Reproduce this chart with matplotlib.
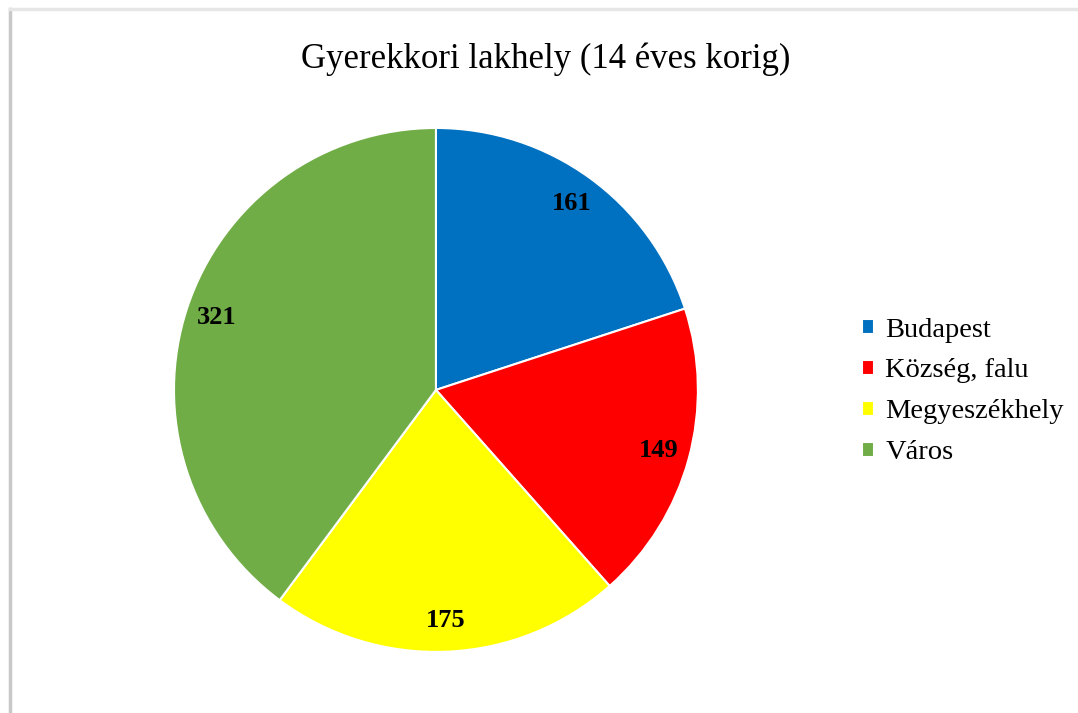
import matplotlib.pyplot as plt
from matplotlib.lines import Line2D

plt.rcParams['font.family'] = ['Liberation Serif', 'DejaVu Serif']

# adatok
categories = ['Budapest', 'Község, falu', 'Megyeszékhely', 'Város']
values = [161, 149, 175, 321]
colors = ['#0070C0', '#FF0000', '#FFFF00', '#70AD47']
title = 'Gyerekkori lakhely (14 éves korig)'

fig = plt.figure(figsize=(10.78, 7.13), dpi=100)

# árnyék-keret a bal és felső szélen
fig.add_artist(Line2D([0.009, 0.009], [0, 0.987], transform=fig.transFigure,
                      color='#c8c8c8', lw=2.5))
fig.add_artist(Line2D([0.009, 1.0], [0.987, 0.987], transform=fig.transFigure,
                      color='#e6e6e6', lw=2.5))

ax = fig.add_axes([0.1614, 0.0856, 0.486, 0.735])
wedges, texts = ax.pie(values, colors=colors, startangle=90, counterclock=False,
                       labels=[str(v) for v in values], labeldistance=0.88,
                       wedgeprops=dict(edgecolor='white', linewidth=1.5),
                       textprops=dict(fontsize=19, fontweight='bold', color='black'))
for t in texts:
    t.set_horizontalalignment('center')
    t.set_verticalalignment('center')
ax.set_xlim(-1, 1)
ax.set_ylim(-1, 1)
ax.set_aspect('equal')

fig.text(0.506, 0.917, title, ha='center', va='center', fontsize=25)

fig.legend(wedges, categories, loc='center left', bbox_to_anchor=(0.781, 0.451),
           frameon=False, fontsize=20.5, handlelength=0.42, handleheight=0.42,
           handletextpad=0.4, labelspacing=0.56, borderpad=0.2)

fig.savefig('out.png', dpi=100, facecolor='white')
